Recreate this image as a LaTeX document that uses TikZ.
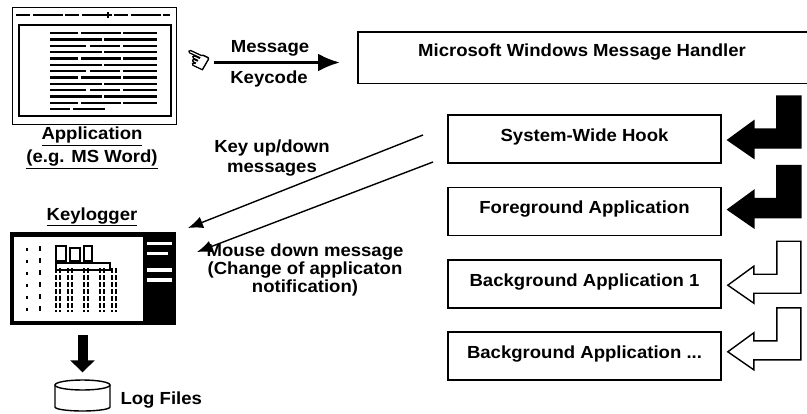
\documentclass[tikz,border=0pt]{standalone}
\usepackage{fontspec}
\setmainfont[FakeStretch=1.06]{Liberation Sans}
\newfontfamily\symfont[FakeBold=2.5]{DejaVu Sans}
\usetikzlibrary{arrows.meta, positioning, calc}

\begin{document}
\begin{tikzpicture}[
  x=1pt, y=-1pt,
  every node/.style={font=\fontsize{17.5}{18}\selectfont\bfseries},
  procbox/.style={draw, line width=1.6pt, minimum width=273pt, minimum height=48pt,
    inner sep=0pt, text height=12.5pt, text depth=8pt},
  msgline/.style={line width=1.4pt, -{Latex[length=15pt, width=12pt]}},
  txtrule/.style={line width=2.2pt},
  linea/.style={dash pattern=on 28pt off 3pt on 40pt off 2pt on 36pt off 60pt},
  lineb/.style={dash pattern=on 52pt off 2pt on 55pt off 60pt},
  linec/.style={dash pattern=on 36pt off 4pt on 30pt off 3pt on 34pt off 60pt},
  hookarr/.pic={
    \path[draw, line width=1.4pt, line join=miter, pic actions]
      (0,0) -- (26,-19) -- (26,-11) -- (49,-11) -- (49,-44) -- (73,-44)
      -- (73,8) -- (26,8) -- (26,18) -- cycle;
  }
]
  \useasboundingbox (0,0) rectangle (807,413);

  % message handler (runs off the right side)
  \node[minimum width=449pt, minimum height=51pt, inner sep=0pt, anchor=north west]
    (handler) at (358,32) {};
  \node[anchor=base] (handlertxt) at (582,56) {Microsoft Windows Message Handler};
  \draw[line width=1.6pt] (handler.north east) -- (handler.north west)
    -- (handler.south west) -- (handler.south east);

  % hook chain
  \node[procbox] (hook) at (584.5,139) {System-Wide Hook};
  \node[procbox, below=23pt of hook] (fgapp) {Foreground Application};
  \node[procbox, below=23pt of fgapp] (bgapp1) {Background Application 1};
  \node[procbox, below=22pt of bgapp1] (bgappn) {Background Application ...};

  \pic[fill=black] at ($(hook.east)+(6,1)$) {hookarr};
  \pic[fill=black] at ($(fgapp.east)+(6,-2)$) {hookarr};
  \pic[fill=white] at ($(bgapp1.east)+(6,1)$) {hookarr};
  \pic[fill=white] at ($(bgappn.east)+(6,-4)$) {hookarr};

  % application window
  \node[draw, line width=1pt, minimum width=164pt, minimum height=117pt, inner sep=0pt,
    anchor=north west] (appwin) at (12,7) {};
  \draw[line width=1.2pt, dash pattern=on 14pt off 3pt on 30pt off 2pt] (16,15) -- (170,15);
  \draw[line width=1.2pt] (108,12) -- (108,18);
  \draw[line width=2.8pt] (19,25) rectangle (171,116);
  \foreach \y/\pat in {33/linea, 39.5/lineb, 46/linec, 52/lineb, 58.5/linea, 65/lineb,
    71/linec, 77.5/linea, 84/lineb, 90/linec, 96.5/lineb, 103/linea}
    \draw[txtrule, \pat] (50,\y) -- (157,\y);
  \draw[txtrule, dash pattern=on 20pt off 3pt on 32pt off 60pt] (50,109) -- (157,109);

  \node[align=center, font=\fontsize{17.5}{23}\selectfont\bfseries] (applbl) at (92,148)
    {\underline{Application}\\\underline{(e.g. MS Word)}};

  % hand cursor
  \node[font=\fontsize{30}{30}\selectfont\symfont, rotate=-25, inner sep=0pt] (hand)
    at (196,61) {☜};

  % message to handler
  \draw[line width=3pt, -{Latex[length=22pt, width=18pt]}, shorten <=37pt, shorten >=18pt]
    ([yshift=3.5pt]appwin.east) -- ([yshift=3.5pt]appwin.east -| handler.west);
  \node[anchor=base] (msglbl) at (270,52) {Message};
  \node[anchor=base] (keylbl) at (269,83) {Keycode};

  % keylogger window
  \node[anchor=base] (kloglbl) at (92,220) {\underline{Keylogger}};
  \node[fill=black, minimum width=166pt, minimum height=93pt, inner sep=0pt,
    anchor=north west] (klog) at (10,232) {};
  \fill[white] (14,237) rectangle (143,321);
  \fill[white] (147,242) rectangle (172,245);
  \fill[white] (147,252) rectangle (168,255);
  \fill[white] (147,268) rectangle (172,272);
  \fill[white] (147,278) rectangle (172,282);
  \draw[line width=2pt, dash pattern=on 3pt off 9pt] (27,248) -- (27,312);
  \draw[line width=2.5pt, dash pattern=on 5pt off 7pt] (40,246) -- (40,312);
  \foreach \x in {56,60,68,72,84,88,100,104,112,116}
    \draw[line width=2pt, dash pattern=on 5pt off 2pt] (\x,268) -- (\x,312);
  \draw[line width=1.5pt] (56,246) rectangle (66,261) (70,248) rectangle (80,261)
    (84,246) rectangle (92,261) (56,263) rectangle (110,270);

  % messages caught by the hook
  \coordinate (kstart) at (423,135);
  \coordinate (kend) at (188,228);
  \coordinate (mstart) at (433,162);
  \coordinate (mend) at (197,252);
  \draw[msgline] (kstart) -- (kend);
  \draw[msgline] (mstart) -- (mend);
  \node[align=center, font=\fontsize{17.5}{20}\selectfont\bfseries] (keyupdn) at (272,158)
    {Key up/down\\messages};
  \node[align=center] (mousedn) at (305,270)
    {Mouse down message\\(Change of applicaton\\notification)};

  % log files
  \node[minimum width=55pt, minimum height=31pt, inner sep=0pt] (logs) at (82.5,396) {};
  \draw[line width=10pt, -{Triangle[length=12pt, width=24pt]}, shorten <=10pt, shorten >=8pt]
    (klog.south -| logs.north) -- (logs.north);
  \draw[line width=1.4pt] (82.5,385) ellipse [x radius=27.5pt, y radius=5pt];
  \draw[line width=1.4pt] (55,385) -- (55,407)
    arc[start angle=180, end angle=360, x radius=27.5pt, y radius=4pt] -- (110,385);
  \node[anchor=base west] (logtxt) at (117,404) {Log Files};
\end{tikzpicture}
\end{document}
